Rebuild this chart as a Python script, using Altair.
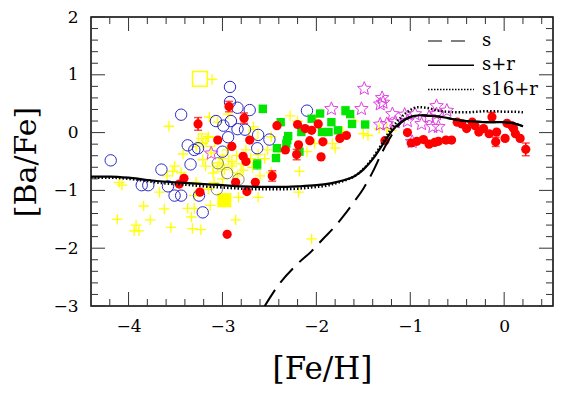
import altair as alt
import pandas as pd

SERIF = "DejaVu Serif"
W, H = 462, 289

# ---------------- model curves ----------------
sr_x = [-4.4, -4.2, -4.0, -3.8, -3.6, -3.4, -3.2, -3.0, -2.8, -2.6, -2.4, -2.2, -2.0, -1.9, -1.8,
        -1.7, -1.6, -1.5, -1.4, -1.3, -1.2, -1.1, -1.0, -0.95, -0.9, -0.8, -0.7, -0.6, -0.5, -0.4,
        -0.3, -0.2, -0.1, 0.0, 0.1, 0.2]
sr_y = [-0.76, -0.76, -0.78, -0.82, -0.85, -0.87, -0.89, -0.91, -0.93, -0.94, -0.94, -0.93, -0.91,
        -0.89, -0.86, -0.82, -0.76, -0.64, -0.46, -0.22, 0.02, 0.18, 0.27, 0.29, 0.30, 0.29, 0.28,
        0.25, 0.22, 0.20, 0.19, 0.18, 0.18, 0.18, 0.16, 0.11]
s16_y = [-0.78, -0.78, -0.80, -0.84, -0.88, -0.90, -0.93, -0.95, -0.97, -0.98, -0.98, -0.97, -0.94,
         -0.92, -0.88, -0.83, -0.76, -0.63, -0.44, -0.19, 0.07, 0.26, 0.39, 0.43, 0.44, 0.42, 0.38,
         0.36, 0.35, 0.35, 0.36, 0.37, 0.37, 0.36, 0.36, 0.35]
s_x = [-2.55, -2.4, -2.2, -2.05, -1.93, -1.8, -1.7, -1.6, -1.5, -1.4, -1.3, -1.2, -1.1, -1.0, -0.95]
s_y = [-3.0, -2.63, -2.27, -2.05, -1.84, -1.62, -1.42, -1.2, -0.97, -0.68, -0.34, -0.05, 0.17, 0.27, 0.29]

# ---------------- observations ----------------
red_x = [-3.26, -2.93, -2.77, -3.05, -2.71, -2.90, -2.78, -2.75, -3.41, -3.46, -3.24, -2.86, -2.65,
         -2.74, -2.47, -2.95, -2.42, -2.33, -2.20, -2.21, -2.19, -2.12, -2.05, -2.07, -1.98, -1.93,
         -1.95, -1.75, -1.68, -1.27, -1.03, -0.99, -0.93, -0.86, -0.80, -0.74, -0.70, -0.62, -0.56,
         -0.50, -0.45, -0.40, -0.34, -0.31, -0.27, -0.22, -0.16, -0.13, -0.09, -0.08, 0.01, 0.03,
         0.08, 0.10, 0.12, 0.17, 0.23]
red_y = [0.15, 0.45, 0.25, -0.13, -0.13, -0.24, -0.41, -0.50, -0.79, -0.89, -1.03, -0.86, -0.86,
         -1.02, -0.75, -1.76, 0.12, -0.30, 0.14, -0.38, -0.21, 0.07, 0.04, -0.14, 0.15, -0.16,
         -0.42, -0.10, -0.05, -0.14, 0.00, -0.18, -0.15, -0.12, -0.20, -0.17, -0.15, -0.13, -0.13,
         0.18, 0.15, 0.07, 0.18, 0.12, 0.01, 0.07, -0.02, 0.27, -0.16, 0.01, -0.10, 0.16,
         0.12, 0.07, -0.02, -0.10, -0.29]
red_err = [0.11, 0.09, 0.09, 0, 0, 0, 0, 0, 0, 0, 0, 0, 0,
           0, 0.09, 0, 0, 0, 0, 0.09, 0, 0, 0, 0, 0, 0,
           0, 0, 0, 0, 0, 0, 0, 0, 0, 0, 0, 0, 0,
           0, 0, 0, 0, 0, 0, 0, 0, 0.08, 0.08, 0, 0, 0,
           0, 0, 0, 0, 0.11]

green_x = [-2.57, -2.38, -1.96, -2.16, -2.30, -2.32, -2.42, -2.43, -2.18, -2.63, -2.31, -2.05,
           -1.69, -1.64, -1.62, -1.48, -1.84, -1.77, -1.94, -1.87]
green_y = [0.41, 0.18, 0.33, 0.01, -0.06, -0.19, -0.27, -0.44, -0.33, -0.55, -0.13, 0.24,
           0.38, 0.32, 0.15, 0.14, 0.18, 0.04, 0.01, 0.01]
green_err = [0.06, 0, 0, 0, 0, 0, 0, 0, 0, 0.08, 0, 0,
             0.07, 0, 0, 0, 0, 0, 0, 0]

blue_x = [-4.19, -3.86, -3.79, -3.65, -3.58, -3.51, -3.44, -3.44, -3.37, -3.30, -3.26, -3.34,
          -3.25, -3.21, -3.07, -2.99, -2.91, -2.84, -2.76, -2.92, -2.92, -2.84, -2.71, -2.94,
          -3.00, -2.62, -2.50, -2.63, -2.10]
blue_y = [-0.48, -0.91, -0.91, -0.64, -0.93, -1.09, -1.09, 0.31, -0.22, -0.30, -0.27, -0.55,
          -1.09, -1.38, 0.20, 0.12, 0.20, 0.06, 0.05, 0.79, 0.53, 0.43, 0.39, -0.08,
          -0.33, -0.04, -0.12, -0.27, 0.38]
grey_x = [-3.05, -2.83, -3.06, -2.95]
grey_y = [-0.53, -0.81, -0.98, -0.70]

star_x = [-3.12, -1.49, -1.30, -1.32, -1.29, -1.84, -1.52, -1.19, -1.06, -0.95, -1.16, -1.25,
          -0.98, -1.32, -0.72, -0.72, -0.70, -0.61, -0.88, -0.80, -1.03, -0.76]
star_y = [-0.36, 0.76, 0.60, 0.49, 0.52, 0.41, 0.41, 0.32, 0.31, 0.32, 0.18, 0.15,
          -0.16, 0.14, 0.46, 0.32, 0.10, 0.38, 0.15, 0.27, 0.20, 0.10]

plus_x = [-3.11, -3.14, -3.57, -4.07, -4.12, -3.84, -3.77, -3.62, -3.92, -3.94, -3.89, -3.55,
          -3.32, -3.23, -3.37, -3.30, -3.33, -3.13, -2.86, -2.62, -2.83, -2.18, -2.19, -2.05,
          -2.28, -2.10, -2.02, -1.83, -1.45, -1.33, -1.20, -1.80, -1.25, -3.51, -3.59, -3.44,
          -3.67, -3.21, -3.28, -3.15, -3.09, -3.05, -2.98, -2.90, -2.84, -3.22, -3.42, -3.53,
          -3.30, -3.15, -3.21, -3.28, -2.94, -3.05, -2.67, -2.48, -2.60, -2.48, -2.40, -4.10,
          -2.95, -2.85, -2.75, -2.70, -2.62, -2.55, -2.52, -3.12, -3.00, -2.90, -3.10, -3.00,
          -2.78, -2.68, -3.18, -1.72, -1.50, -1.60, -2.20, -2.00]
plus_y = [0.92, 0.27, 0.11, -0.91, -1.50, -1.27, -1.51, -1.32, -1.60, -1.70, -1.70, -1.64,
          -1.66, -1.68, -1.31, -1.31, -1.46, -1.26, -1.51, -1.12, -1.12, -0.67, -1.03, -1.84,
          0.29, -0.33, -0.19, -0.19, -0.05, 0.07, 0.04, -0.27, 0.07, -0.58, -0.75, -0.69,
          -1.03, -0.47, -0.86, -0.98, -0.86, -0.58, -0.64, -0.58, -0.75, -0.10, -0.37, -0.67,
          -1.09, -0.07, -0.19, -0.24, 0.32, 0.18, 0.10, -0.07, -0.75, -0.69, -0.30, -0.86,
          -0.30, -0.40, -0.30, -0.45, -0.38, -0.45, -0.30, -0.35, -0.45, -0.50, -0.70, -0.80,
          -0.65, -0.60, -0.58, 0.02, -0.02, 0.20, 0.20, 0.28]

ysq_x = [-3.21, -3.13, -2.98, -2.67, -2.85, -3.05]
ysq_y = [-0.10, -0.16, -0.47, -0.02, -0.62, -0.60]
bigsq_open_x, bigsq_open_y = [-3.24], [0.93]
bigsq_fill_x, bigsq_fill_y = [-2.98], [-1.17]

legend_labels = ["s", "s+r", "s16+r"]

x_major = [-4, -3, -2, -1, 0]
y_major = [-3, -2, -1, 0, 1, 2]
x_minor = [v for v in (round(-4.2 + 0.2 * i, 1) for i in range(24)) if abs(v - round(v)) > 1e-6]
y_minor = [v for v in (round(-2.8 + 0.2 * i, 1) for i in range(24)) if abs(v - round(v)) > 1e-6]

# ---------------- scales / axes ----------------
xs = alt.Scale(domain=[-4.4, 0.52], nice=False, zero=False)
ys = alt.Scale(domain=[-3, 2], nice=False, zero=False)
xaxis = alt.Axis(values=x_major, title="[Fe/H]", orient="bottom", ticks=False, domain=False,
                 grid=False, labelFont=SERIF, labelFontSize=17, labelPadding=12,
                 labelColor="black", labelFlush=False, titleFont=SERIF, titleFontSize=31,
                 titleFontWeight="normal", titleColor="black", titleY=63,
                 titleBaseline="middle")
yaxis = alt.Axis(values=y_major, title="[Ba/Fe]", orient="left", ticks=False, domain=False,
                 grid=False, labelFont=SERIF, labelFontSize=17, labelPadding=13,
                 labelColor="black", labelFlush=False, titleFont=SERIF, titleFontSize=30,
                 titleFontWeight="normal", titleColor="black", titleX=-65, titleY=H / 2,
                 titleAngle=-90, titleAlign="center", titleBaseline="middle")


def X(field="x"):
    return alt.X(f"{field}:Q", scale=xs, axis=None)


def Y(field="y"):
    return alt.Y(f"{field}:Q", scale=ys, axis=None)


def pts(xv, yv, **extra):
    d = {"x": xv, "y": yv}
    d.update(extra)
    return pd.DataFrame(d)


layers = []

curve_sr = pts(sr_x, sr_y)
curve_16 = pts(sr_x, s16_y)
curve_s = pts(s_x + sr_x[24:], s_y + sr_y[24:])

plus_path = "M-1,0H1M0,-1V1"
star_path = ("M0,-1L0.264,-0.364L0.951,-0.309L0.428,0.139L0.588,0.809L0,0.45"
             "L-0.588,0.809L-0.428,0.139L-0.951,-0.309L-0.264,-0.364Z")

# first layer carries the axes
layers.append(alt.Chart(pts(plus_x, plus_y)).mark_point(
    shape=plus_path, size=110, filled=False, color="#ffff00", strokeWidth=1.3, opacity=1
).encode(x=alt.X("x:Q", scale=xs, axis=xaxis), y=alt.Y("y:Q", scale=ys, axis=yaxis)))
layers.append(alt.Chart(pts(ysq_x, ysq_y)).mark_point(
    shape="square", size=80, filled=False, color="#ffff00", strokeWidth=1.2, opacity=1
).encode(x=X(), y=Y()))
layers.append(alt.Chart(pts(bigsq_open_x, bigsq_open_y)).mark_point(
    shape="square", size=220, filled=False, color="#ffff00", strokeWidth=1.5, opacity=1
).encode(x=X(), y=Y()))
layers.append(alt.Chart(pts(bigsq_fill_x, bigsq_fill_y)).mark_point(
    shape="square", size=200, filled=True, color="#ffff00", opacity=1
).encode(x=X(), y=Y()))
layers.append(alt.Chart(pts(blue_x, blue_y)).mark_point(
    shape="circle", size=130, filled=False, color="#2a2acc", strokeWidth=1, opacity=1
).encode(x=X(), y=Y()))
layers.append(alt.Chart(pts(grey_x, grey_y)).mark_point(
    shape="circle", size=130, filled=False, color="#666666", strokeWidth=0.8, opacity=1
).encode(x=X(), y=Y()))
layers.append(alt.Chart(pts(star_x, star_y)).mark_point(
    shape=star_path, size=200, filled=False, color="#e040e0", strokeWidth=1, opacity=1
).encode(x=X(), y=Y()))

# green squares with error bars
gdf = pts(green_x, green_y, e=green_err)
gdf["lo"] = gdf["y"] - gdf["e"]
gdf["hi"] = gdf["y"] + gdf["e"]
gerr = gdf[gdf["e"] > 0]
layers.append(alt.Chart(gerr).mark_rule(color="#00e600", strokeWidth=1.5).encode(
    x=X(), y=Y("lo"), y2="hi:Q"))
for c in ["lo", "hi"]:
    layers.append(alt.Chart(gerr).mark_tick(orient="horizontal", color="#00e600", size=8,
                                            thickness=1.5).encode(x=X(), y=Y(c)))
layers.append(alt.Chart(gdf).mark_point(
    shape="square", size=70, filled=True, color="#00e600", opacity=1
).encode(x=X(), y=Y()))

# red circles with error bars
rdf = pts(red_x, red_y, e=red_err)
rdf["lo"] = rdf["y"] - rdf["e"]
rdf["hi"] = rdf["y"] + rdf["e"]
rerr = rdf[rdf["e"] > 0]
layers.append(alt.Chart(rerr).mark_rule(color="#ff0000", strokeWidth=1.5).encode(
    x=X(), y=Y("lo"), y2="hi:Q"))
for c in ["lo", "hi"]:
    layers.append(alt.Chart(rerr).mark_tick(orient="horizontal", color="#ff0000", size=8,
                                            thickness=1.5).encode(x=X(), y=Y(c)))
layers.append(alt.Chart(rdf).mark_point(
    shape="circle", size=85, filled=True, color="#ff0000", opacity=1
).encode(x=X(), y=Y()))

# curves
layers.append(alt.Chart(curve_s).mark_line(color="black", strokeWidth=2, strokeDash=[19, 9],
                                           interpolate="monotone").encode(x=X(), y=Y()))
layers.append(alt.Chart(curve_16).mark_line(color="black", strokeWidth=2.5, strokeDash=[1.5, 2],
                                            interpolate="monotone").encode(x=X(), y=Y()))
layers.append(alt.Chart(curve_sr).mark_line(color="black", strokeWidth=2.2,
                                            interpolate="monotone").encode(x=X(), y=Y()))

# frame ticks (inward)
TCOL = "#333333"
for vals, L in [(x_major, 14), (x_minor, 7)]:
    d = pd.DataFrame({"x": vals})
    layers.append(alt.Chart(d).mark_rule(color=TCOL, strokeWidth=1).encode(
        x=X(), y=alt.value(H), y2=alt.value(H - L)))
    layers.append(alt.Chart(d).mark_rule(color=TCOL, strokeWidth=1).encode(
        x=X(), y=alt.value(0), y2=alt.value(L)))
for vals, L in [(y_major, 14), (y_minor, 7)]:
    d = pd.DataFrame({"y": vals})
    layers.append(alt.Chart(d).mark_rule(color=TCOL, strokeWidth=1).encode(
        y=Y(), x=alt.value(0), x2=alt.value(L)))
    layers.append(alt.Chart(d).mark_rule(color=TCOL, strokeWidth=1).encode(
        y=Y(), x=alt.value(W), x2=alt.value(W - L)))

# legend (top-right, inside plot)
leg_styles = [
    dict(strokeDash=[14, 9], strokeWidth=1.5, color="#555555"),
    dict(strokeWidth=1.5, color="black"),
    dict(strokeDash=[1.5, 1.5], strokeWidth=1.5, color="black"),
]
for i, (lab, st) in enumerate(zip(legend_labels, leg_styles)):
    ly = 24 + 24.3 * i
    d = pd.DataFrame({"label": [lab]})
    layers.append(alt.Chart(d).mark_rule(**st).encode(
        x=alt.value(337), x2=alt.value(383), y=alt.value(ly)))
    layers.append(alt.Chart(d).mark_text(font=SERIF, fontSize=18, align="left",
                                         baseline="middle", color="black").encode(
        x=alt.value(391), y=alt.value(ly), text="label:N"))

chart = alt.layer(*layers).resolve_axis(x="independent", y="independent").properties(
    width=W, height=H,
    background="white",
    autosize=alt.AutoSizeParams(type="none"),
    padding={"left": 83, "top": 9, "right": 8, "bottom": 80},
).configure_view(stroke="black", strokeWidth=1.5)

chart.save("out.html", embed_options={"renderer": "svg", "actions": False})
